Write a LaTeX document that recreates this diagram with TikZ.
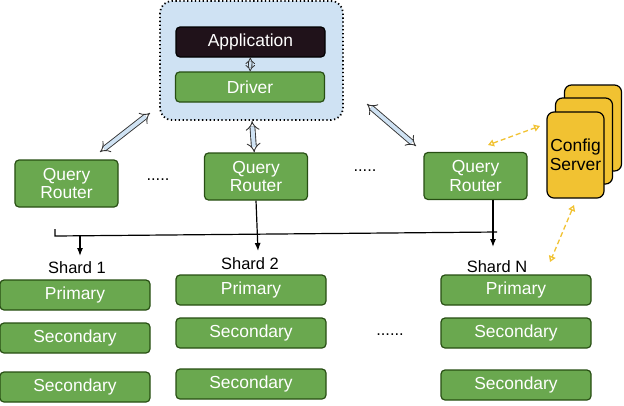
\documentclass[tikz,border=0pt]{standalone}
\usepackage{fontspec}
\setmainfont{Liberation Sans}
\usetikzlibrary{arrows.meta}

\definecolor{boxgreen}{HTML}{6AA84F}
\definecolor{edgegreen}{HTML}{274E13}
\definecolor{cfgyellow}{HTML}{F1C232}
\definecolor{appblack}{HTML}{20121A}
\definecolor{paleblue}{HTML}{CFE2F3}

\tikzset{
  gbox/.style={draw=edgegreen, fill=boxgreen, rounded corners=4pt, line width=1.2pt,
    text=white, font=\fontsize{17.5}{19}\selectfont, align=center, inner sep=0pt},
  member/.style={gbox, minimum width=150bp, minimum height=30bp},
  router/.style={gbox, minimum width=103bp, minimum height=47bp},
  cfg/.style={draw=black, fill=cfgyellow, rounded corners=7pt, line width=1.2pt,
    minimum width=57bp, minimum height=86bp, align=center, inner sep=0pt,
    font=\fontsize{17.5}{19}\selectfont},
  fat/.style={draw=black!80, line width=0.9pt, double=paleblue, double distance=4pt, {Implies}-{Implies}},
  slim/.style={draw=black!80, line width=0.8pt, double=paleblue, double distance=2.5pt, {Implies}-{Implies}},
  cfglink/.style={cfgyellow, line width=1.3pt, dash pattern=on 5pt off 3pt, {Triangle[open,length=6pt,width=7pt]}-{Triangle[open,length=6pt,width=7pt]}},
  bus/.style={line width=1.2pt, -{Latex[length=8pt,width=6pt]}},
  lbl/.style={font=\fontsize{16.5}{18}\selectfont}
}

\begin{document}
\begin{tikzpicture}[x=1bp, y=-1bp]
\useasboundingbox (0,0) rectangle (624,405);

% client side
\draw [fill=paleblue, rounded corners=12pt, line width=1.8pt, dash pattern=on 1.3pt off 2.6pt] (160,1) rectangle (343,120);
\node [gbox, fill=appblack, draw=black, minimum width=149bp, minimum height=30bp] (app) at (250.5,42) {Application};
\node [gbox, minimum width=149bp, minimum height=30bp] (drv) at (250,87) {Driver};
\draw [slim] (app) -- (drv);

% routers
\node [router] (qr1) at (66.5,183.5) {Query\\Router};
\node [router] (qr2) at (256,176.5) {Query\\Router};
\node [router] (qr3) at (475.5,176) {Query\\Router};
\node [lbl] (d1) at (158,180) {.....};
\node [lbl] (d2) at (365,171) {.....};

\coordinate (c0) at (252,121);
\draw [fat] (c0) -- (qr2);
\draw [fat] (150,113) -- (100,152);
\draw [fat] (367,104) -- (416,146);

% config servers
\node [cfg] (cs3) at (593,128) {};
\node [cfg] (cs2) at (584,141) {};
\node [cfg] (cs1) at (575.5,155) {Config\\Server};
\draw [cfglink] (488,145) -- (540,126);
\draw [cfglink] (574,205) -- (550,262);

% shards
\node [lbl] (s1) at (77,268) {Shard 1};
\node [lbl] (s2) at (250,264) {Shard 2};
\node [lbl] (s3) at (497,267) {Shard N};

\node [member] (p1) at (75,295) {Primary};
\node [member] (a1) at (75,338) {Secondary};
\node [member] (b1) at (75,387) {Secondary};
\node [member] (p2) at (251,290) {Primary};
\node [member] (a2) at (251,333) {Secondary};
\node [member] (b2) at (251,384) {Secondary};
\node [member] (p3) at (516,290) {Primary};
\node [member] (a3) at (516,333) {Secondary};
\node [member] (b3) at (516,385) {Secondary};
\node [lbl] (d3) at (390,335) {......};

% bus
\coordinate (l) at (55,236);
\coordinate (r) at (497,232);
\coordinate (qr3b) at (493,199.5);
\draw [line width=1.2pt] (55,229) -- (l) -- (r);
\draw [bus] (80,236) -- (80,256);
\draw [bus] (qr2.south) -- (258,251);
\draw [bus] (qr3b) -- (493,247);
\end{tikzpicture}
\end{document}
